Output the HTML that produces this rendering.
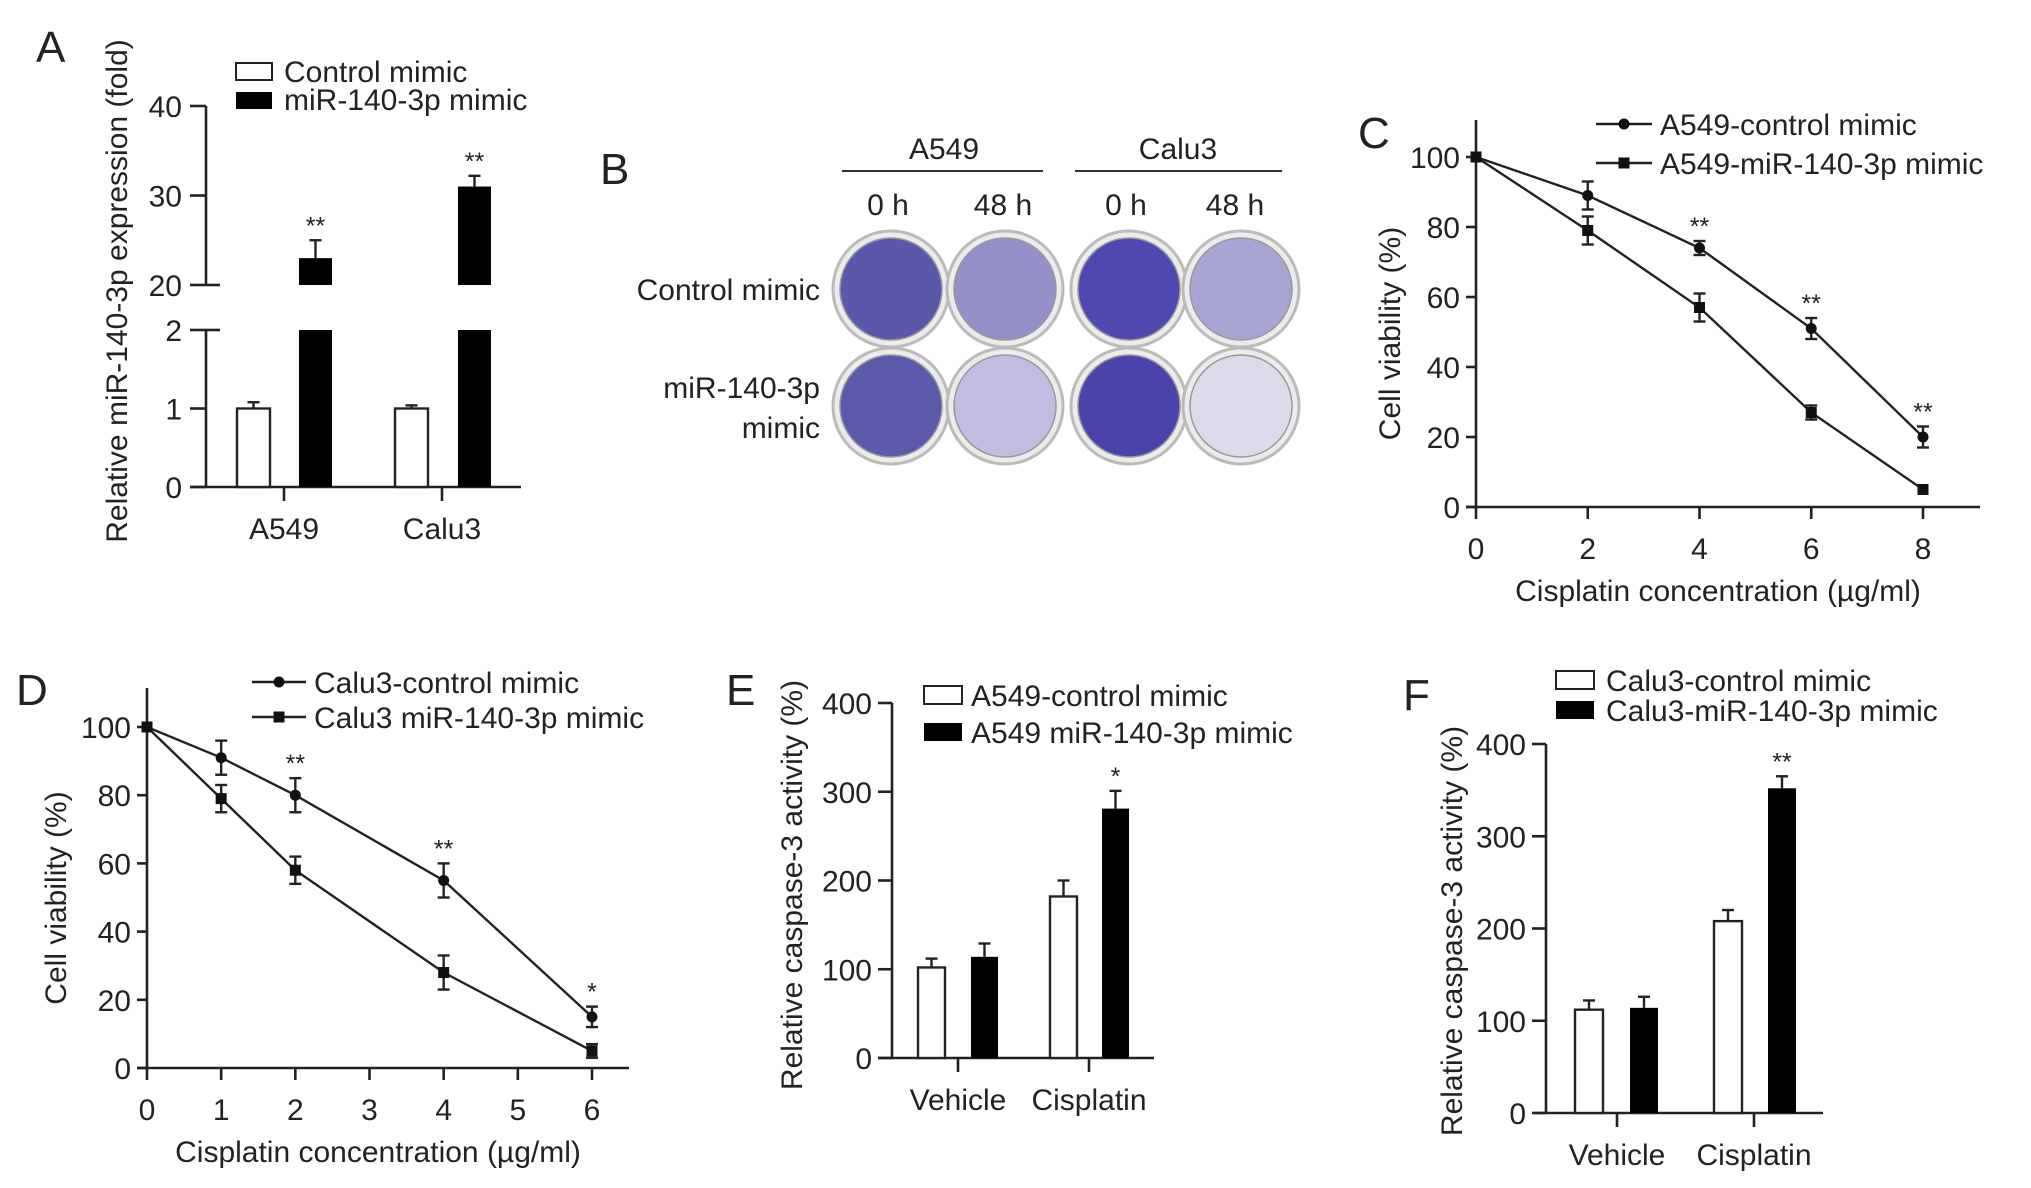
<!DOCTYPE html>
<html><head><meta charset="utf-8"><style>
html,body{margin:0;padding:0;background:#fff}
svg{display:block}
text{font-family:"Liberation Sans",Arial,sans-serif;fill:#222}
</style></head><body>
<svg id="fig" width="2031" height="1188" viewBox="0 0 2031 1188" xmlns="http://www.w3.org/2000/svg">
<g id="pB">
<text x="600" y="184" font-size="44">B</text>
<text x="944" y="159" font-size="30" text-anchor="middle">A549</text>
<line x1="842" y1="171" x2="1043" y2="171" stroke="#333" stroke-width="2"/>
<text x="1178" y="159" font-size="30" text-anchor="middle">Calu3</text>
<line x1="1075" y1="171" x2="1282" y2="171" stroke="#333" stroke-width="2"/>
<text x="888" y="215" font-size="30" text-anchor="middle">0 h</text>
<text x="1003" y="215" font-size="30" text-anchor="middle">48 h</text>
<text x="1126" y="215" font-size="30" text-anchor="middle">0 h</text>
<text x="1235" y="215" font-size="30" text-anchor="middle">48 h</text>
<text x="820" y="300" font-size="30" text-anchor="end">Control mimic</text>
<text x="820" y="398" font-size="30" text-anchor="end">miR-140-3p</text>
<text x="820" y="438" font-size="30" text-anchor="end">mimic</text>
</g>
</svg>
<script>
// Panel A data
const aCats = ["A549", "Calu3"];
const aCtrl = [1.0, 1.0];
const aCtrlErr = [0.08, 0.04];
const aMimic = [23, 31];
const aMimicErr = [2, 1.2];
const aLowTicks = [0, 1, 2];
const aHighTicks = [20, 30, 40];
// Panel C data
const cX = [0, 2, 4, 6, 8];
const cCtrl = [100, 89, 74, 51, 20];
const cCtrlErr = [0, 4, 2, 3, 3];
const cMimic = [100, 79, 57, 27, 5];
const cMimicErr = [0, 4, 4, 2, 0];
const cStars = ["", "", "**", "**", "**"];
const cXTicks = [0, 2, 4, 6, 8];
const cYTicks = [0, 20, 40, 60, 80, 100];
// Panel D data
const dX = [0, 1, 2, 4, 6];
const dCtrl = [100, 91, 80, 55, 15];
const dCtrlErr = [0, 5, 5, 5, 3];
const dMimic = [100, 79, 58, 28, 5];
const dMimicErr = [0, 4, 4, 5, 2];
const dStars = ["", "", "**", "**", "*"];
const dXTicks = [0, 1, 2, 3, 4, 5, 6];
const dYTicks = [0, 20, 40, 60, 80, 100];
// Panel E data
const eCats = ["Vehicle", "Cisplatin"];
const eCtrl = [102, 182];
const eCtrlErr = [10, 18];
const eMimic = [114, 281];
const eMimicErr = [15, 20];
const eStars = ["", "*"];
// Panel F data
const fCats = ["Vehicle", "Cisplatin"];
const fCtrl = [112, 208];
const fCtrlErr = [10, 12];
const fMimic = [114, 352];
const fMimicErr = [12, 13];
const fStars = ["", "**"];
const barYTicks = [0, 100, 200, 300, 400];
// Panel B well colours (image, not data)
const wells = [
 [891,289,"#5a58aa"],[1005,289,"#958fca"],[1129,289,"#4e48b0"],[1241,289,"#a9a5d2"],
 [891,406,"#5b59ab"],[1005,406,"#c2bde0"],[1129,406,"#4a43a9"],[1241,406,"#dddbeb"]];

const NS="http://www.w3.org/2000/svg";
const svg=document.getElementById('fig');
function el(tag,attrs,parent){const e=document.createElementNS(NS,tag);for(const k in attrs)e.setAttribute(k,attrs[k]);(parent||svg).appendChild(e);return e;}
function txt(x,y,s,size,anchor,parent,rot){const t=el('text',{x:x,y:y,'font-size':size,'text-anchor':anchor||'start'},parent);if(rot)t.setAttribute('transform',`rotate(-90 ${x} ${y})`);t.textContent=s;return t;}
const K="#222",SW=2.6,FS=30,LFS=44,SFS=25;
function line(x1,y1,x2,y2,p,w){return el('line',{x1,y1,x2,y2,stroke:K,'stroke-width':w||SW},p);}
function errbar(x,y1,y2,p,cap){line(x,y1,x,y2,p,2.4);line(x-(cap||6),y2,x+(cap||6),y2,p,2.4);}

// wells
const gB=document.getElementById('pB');
wells.forEach((w,i)=>{
 const c=el('circle',{cx:w[0],cy:w[1],r:58,fill:'#ececec',stroke:'#bbb','stroke-width':3},gB);
 
 
 const d=el('circle',{cx:w[0],cy:w[1],r:51,fill:w[2],stroke:'#999','stroke-width':1.5},gB);
 
 
});

// ---------- Panel A ----------
const gA=el('g',{});


txt(36,62,"A",LFS,'start',gA);
const aX0=206, aLowY=v=>487-(v/2)*(487-330), aHighY=v=>285-((v-20)/20)*(285-106);
line(aX0,487,aX0,330,gA);line(aX0,285,aX0,106,gA);
line(190,487,521,487,gA);
aLowTicks.forEach(t=>{line(190,aLowY(t),aX0,aLowY(t),gA);txt(182,aLowY(t)+11,String(t),FS,'end',gA);});
aHighTicks.forEach(t=>{line(190,aHighY(t),aX0,aHighY(t),gA);txt(182,aHighY(t)+11,String(t),FS,'end',gA);});
line(aX0,aLowY(2),220,aLowY(2),gA);line(aX0,aHighY(20),220,aHighY(20),gA);
const aCtrlX=[237,395],aMimX=[299,458],aBW=33,aTickX=[284,442];
aCats.forEach((c,i)=>{
 line(aTickX[i],487,aTickX[i],501,gA);
 txt(aTickX[i],539,c,FS,'middle',gA);
 errbar(aCtrlX[i]+aBW/2,aLowY(aCtrl[i]),aLowY(aCtrl[i]+aCtrlErr[i]),gA);
 const r=el('rect',{x:aCtrlX[i],y:aLowY(aCtrl[i]),width:aBW,height:487-aLowY(aCtrl[i]),fill:'#fff',stroke:K,'stroke-width':2.4},gA);
 
 
 const lo=el('rect',{x:aMimX[i],y:aLowY(2),width:aBW,height:487-aLowY(2),fill:'#000'},gA);
 
 
 errbar(aMimX[i]+aBW/2,aHighY(aMimic[i]),aHighY(aMimic[i]+aMimicErr[i]),gA);
 const hi=el('rect',{x:aMimX[i],y:aHighY(aMimic[i]),width:aBW,height:285-aHighY(aMimic[i]),fill:'#000'},gA);
 
 
 txt(aMimX[i]+aBW/2,aHighY(aMimic[i]+aMimicErr[i])-6,"**",SFS,'middle',gA);
});
el('rect',{x:236,y:63,width:36,height:17,fill:'#fff',stroke:K,'stroke-width':2},gA);
el('rect',{x:236,y:92,width:36,height:17,fill:'#000'},gA);
txt(284,82,"Control mimic",FS,'start',gA);
txt(284,110,"miR-140-3p mimic",FS,'start',gA);
txt(127,291,"Relative miR-140-3p expression (fold)",FS,'middle',gA,true);

// ---------- line chart helper ----------
function lineChart(name,o){
 const g=el('g',{});
 
 
 const X=v=>o.x0+(v-o.xmin)/(o.xmax-o.xmin)*(o.x1-o.x0);
 const Y=v=>o.y0-(v/100)*(o.y0-o.y100);
 line(o.x0,o.y0,o.x0,o.top,g);line(o.x0-10,o.y0,o.xend,o.y0,g);
 o.yTicks.forEach(t=>{line(o.x0-10,Y(t),o.x0,Y(t),g);txt(o.x0-16,Y(t)+11,String(t),FS,'end',g);});
 o.xTicks.forEach(t=>{line(X(t),o.y0,X(t),o.y0+12,g);txt(X(t),o.y0+52,String(t),FS,'middle',g);});
 txt((o.x0+o.xend)/2-10,o.y0+94,"Cisplatin concentration (\u00b5g/ml)",FS,'middle',g);
 txt(o.ytx,(o.y0+o.top)/2+20,"Cell viability (%)",FS,'middle',g,true);
 const pts=(ys)=>o.xs.map((x,i)=>X(x)+','+Y(ys[i])).join(' ');
 const p1=el('polyline',{points:pts(o.ctrl),fill:'none',stroke:K,'stroke-width':2.4},g);
 
 
 const p2=el('polyline',{points:pts(o.mim),fill:'none',stroke:K,'stroke-width':2.4},g);
 
 
 o.xs.forEach((x,i)=>{
  if(o.ctrlErr[i]){errbar(X(x),Y(o.ctrl[i]),Y(o.ctrl[i]+o.ctrlErr[i]),g);errbar(X(x),Y(o.ctrl[i]),Y(o.ctrl[i]-o.ctrlErr[i]),g);}
  if(o.mimErr[i]){errbar(X(x),Y(o.mim[i]),Y(o.mim[i]+o.mimErr[i]),g);errbar(X(x),Y(o.mim[i]),Y(o.mim[i]-o.mimErr[i]),g);}
  const c=el('circle',{cx:X(x),cy:Y(o.ctrl[i]),r:5.5,fill:'#111'},g);
  
  
  const s=el('rect',{x:X(x)-5.5,y:Y(o.mim[i])-5.5,width:11,height:11,fill:'#111'},g);
  
  
  if(o.stars[i])txt(X(x),Y(o.ctrl[i]+o.ctrlErr[i])-6,o.stars[i],SFS,'middle',g);
 });
 line(o.lx0,o.ly1,o.lx1,o.ly1,g,2.4);el('circle',{cx:(o.lx0+o.lx1)/2,cy:o.ly1,r:5.5,fill:'#111'},g);
 line(o.lx0,o.ly2,o.lx1,o.ly2,g,2.4);el('rect',{x:(o.lx0+o.lx1)/2-5.5,y:o.ly2-5.5,width:11,height:11,fill:'#111'},g);
 txt(o.lx1+8,o.ly1+11,o.leg1,FS,'start',g);
 txt(o.lx1+8,o.ly2+11,o.leg2,FS,'start',g);
 txt(o.lab[0],o.lab[1],o.lab[2],LFS,'start',g);
}
lineChart('panel-c-chart',{x0:1476,x1:1923,xmin:0,xmax:8,xend:1980,y0:507,y100:157,top:120,xs:cX,ctrl:cCtrl,ctrlErr:cCtrlErr,mim:cMimic,mimErr:cMimicErr,stars:cStars,xTicks:cXTicks,yTicks:cYTicks,ytx:1400,lx0:1596,lx1:1652,ly1:124,ly2:163,leg1:"A549-control mimic",leg2:"A549-miR-140-3p mimic",lab:[1358,148,"C"]});
lineChart('panel-d-chart',{x0:147,x1:592,xmin:0,xmax:6,xend:629,y0:1068,y100:727,top:688,xs:dX,ctrl:dCtrl,ctrlErr:dCtrlErr,mim:dMimic,mimErr:dMimicErr,stars:dStars,xTicks:dXTicks,yTicks:dYTicks,ytx:66,lx0:252,lx1:306,ly1:682,ly2:717,leg1:"Calu3-control mimic",leg2:"Calu3 miR-140-3p mimic",lab:[16,705,"D"]});

// ---------- bar chart helper ----------
function barChart(name,o){
 const g=el('g',{});
 
 
 const Y=v=>o.y0-(v/400)*(o.y0-o.y400);
 line(o.x0,o.y0,o.x0,o.y400,g);line(o.xa,o.y0,o.xend,o.y0,g);
 barYTicks.forEach(t=>{line(o.x0-14,Y(t),o.x0,Y(t),g);txt(o.x0-20,Y(t)+11,String(t),FS,'end',g);});
 o.cats.forEach((c,i)=>{
  line(o.ticks[i],o.y0,o.ticks[i],o.y0+14,g);
  txt(o.ticks[i],o.y0+52,c,FS,'middle',g);
  errbar(o.cx[i]+o.bw/2,Y(o.ctrl[i]),Y(o.ctrl[i]+o.ctrlErr[i]),g);
  const r=el('rect',{x:o.cx[i],y:Y(o.ctrl[i]),width:o.bw,height:o.y0-Y(o.ctrl[i]),fill:'#fff',stroke:K,'stroke-width':2.4},g);
  
  
  errbar(o.mx[i]+o.bw/2,Y(o.mim[i]),Y(o.mim[i]+o.mimErr[i]),g);
  const b=el('rect',{x:o.mx[i],y:Y(o.mim[i]),width:o.bw,height:o.y0-Y(o.mim[i]),fill:'#000'},g);
  
  
  if(o.stars[i])txt(o.mx[i]+o.bw/2,Y(o.mim[i]+o.mimErr[i])-6,o.stars[i],SFS,'middle',g);
 });
 el('rect',{x:o.lx,y:o.ly1-9,width:38,height:18,fill:'#fff',stroke:K,'stroke-width':2},g);
 el('rect',{x:o.lx,y:o.ly2-9,width:38,height:18,fill:'#000'},g);
 txt(o.ltx,o.ly1+11,o.leg1,FS,'start',g);
 txt(o.ltx,o.ly2+11,o.leg2,FS,'start',g);
 txt(o.ytx,o.yty,"Relative caspase-3 activity (%)",FS,'middle',g,true);
 txt(o.lab[0],o.lab[1],o.lab[2],LFS,'start',g);
}
barChart('panel-e-chart',{x0:892,xa:878,xend:1154,y0:1058,y400:703,cats:eCats,ctrl:eCtrl,ctrlErr:eCtrlErr,mim:eMimic,mimErr:eMimicErr,stars:eStars,cx:[918,1050],mx:[971,1102],bw:27,ticks:[958,1089],lx:924,ly1:695,ly2:732,ltx:971,leg1:"A549-control mimic",leg2:"A549 miR-140-3p mimic",ytx:802,yty:885,lab:[726,705,"E"]});
barChart('panel-f-chart',{x0:1546,xa:1534,xend:1823,y0:1113,y400:744,cats:fCats,ctrl:fCtrl,ctrlErr:fCtrlErr,mim:fMimic,mimErr:fMimicErr,stars:fStars,cx:[1575,1714],mx:[1630,1768],bw:28,ticks:[1617,1754],lx:1556,ly1:680,ly2:710,ltx:1606,leg1:"Calu3-control mimic",leg2:"Calu3-miR-140-3p mimic",ytx:1462,yty:931,lab:[1403,710,"F"]});
</script>
</body></html>
